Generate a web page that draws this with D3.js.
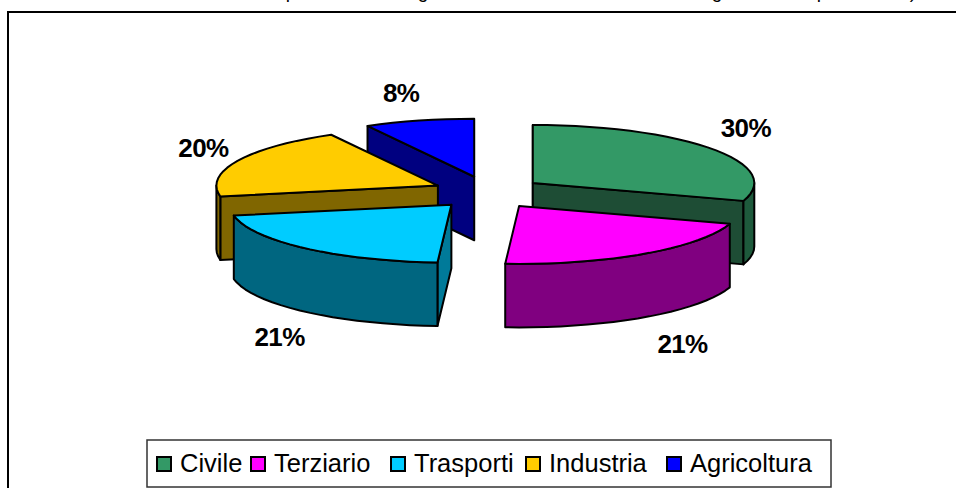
<!DOCTYPE html>
<html><head><meta charset="utf-8">
<script src="https://cdn.jsdelivr.net/npm/d3@7/dist/d3.min.js"></script>
<style>html,body{margin:0;padding:0;background:#fff;overflow:hidden}svg{display:block}text{font-family:"Liberation Sans",Arial,sans-serif;fill:#000}</style>
</head><body><svg id="c" width="956" height="488"></svg>
<script>
// data
const categories = ["Civile","Terziario","Trasporti","Industria","Agricoltura"];
const shares = [30,21,21,20,8];
const topColors = ["#339966","#FF00FF","#00CCFF","#FFCC00","#0000FF"];
const outerColors = ["#1E5A3C","#800080","#006680","#806600","#000080"];
const cutColors = ["#1E4D35","#800080","#007A99","#806600","#000080"];
const titleTails = ["p","g","g","p",")"];

// layout
const W=956,H=488;
const cx=488, cy=192.5, rx=221.5, ry=58, depth=63.5, explodeX=0.25, explodeY=0.28;
const drawOrder=[4,0,3,2,1];
const labelNudge=[[-2,0],[14,-2],[4,-1],[6,2],[-7,6]];
const legendSwatchX=[157,251,391,526,667];
const tailX=[291,423,717,822,913];

const svg=d3.select("#c");
const pie=d3.pie().sort(null).value(d=>d).startAngle(0).endAngle(2*Math.PI);
const arcs=pie(shares);
const px=d3.scaleLinear().domain([-1,1]).range([-rx,rx]);
const py=d3.scaleLinear().domain([-1,1]).range([ry,-ry]); // +1 = north (away from viewer)
const line=d3.line();
const rimPts=(c,a0,a1,dy=0)=>{
  const n=Math.max(1,Math.ceil((a1-a0)/(Math.PI/48)));
  return d3.range(n+1).map(i=>{const a=a0+(a1-a0)*i/n;return [c[0]+px(Math.sin(a)),c[1]+py(Math.cos(a))+dy];});
};

// frame
svg.append("rect").attr("x",8).attr("y",12).attr("width",W+20).attr("height",H+20)
  .attr("fill","#fff").attr("stroke","#000").attr("stroke-width",2);

// clipped title remnants along the top edge
svg.append("g").selectAll("text").data(titleTails).join("text")
  .attr("x",(d,i)=>tailX[i]).attr("y",-2).attr("text-anchor","middle")
  .style("font-size","19px").text(d=>d);

const addPath=(g,d,fill)=>g.append("path").attr("d",d).attr("fill",fill)
  .attr("stroke","#000").attr("stroke-width",2).attr("stroke-linejoin","round");

const centers=arcs.map(a=>{
  const m=(a.startAngle+a.endAngle)/2;
  return [cx+px(Math.sin(m))*explodeX, cy+py(Math.cos(m))*explodeY];
});

const g=svg.append("g");
drawOrder.forEach(i=>{
  const a=arcs[i], c=centers[i], s=a.startAngle, e=a.endAngle;
  const sg=g.append("g");
  const wall=(ang)=>{
    const p=[c[0]+px(Math.sin(ang)),c[1]+py(Math.cos(ang))];
    addPath(sg,line([c,p,[p[0],p[1]+depth],[c[0],c[1]+depth]])+"Z",cutColors[i]);
  };
  const eps=1e-6;
  if(Math.sin(s)<=eps) wall(s);
  if(Math.sin(e)>=-eps && e<2*Math.PI-eps) wall(e);
  const o0=Math.max(s,Math.PI/2), o1=Math.min(e,3*Math.PI/2);
  if(o1>o0){
    const topRim=rimPts(c,o0,o1), botRim=rimPts(c,o0,o1,depth).reverse();
    addPath(sg,line(topRim.concat(botRim))+"Z",outerColors[i]);
  }
  addPath(sg,line([c].concat(rimPts(c,s,e)))+"Z",topColors[i]);
});

// data labels
svg.append("g").selectAll("text").data(arcs).join("text")
  .attr("text-anchor","middle").attr("font-weight","bold")
  .style("font-size","26px").style("letter-spacing","-0.6px")
  .attr("x",(d,i)=>{const m=(d.startAngle+d.endAngle)/2;return centers[i][0]+px(Math.sin(m))*1.2+labelNudge[i][0];})
  .attr("y",(d,i)=>{const m=(d.startAngle+d.endAngle)/2;const c=Math.cos(m);return centers[i][1]+py(c)*1.6+(c<0?depth:0)+labelNudge[i][1]+9;})
  .text(d=>d.value+"%");

// legend
const lg=svg.append("g");
lg.append("rect").attr("x",147).attr("y",440).attr("width",684).attr("height",47)
  .attr("fill","#fff").attr("stroke","#333").attr("stroke-width",1.5);
categories.forEach((n,i)=>{
  lg.append("rect").attr("x",legendSwatchX[i]).attr("y",457).attr("width",14).attr("height",14)
    .attr("fill",topColors[i]).attr("stroke","#000").attr("stroke-width",2);
  lg.append("text").attr("x",legendSwatchX[i]+23).attr("y",472).style("font-size","25.5px").text(n);
});
</script></body></html>
